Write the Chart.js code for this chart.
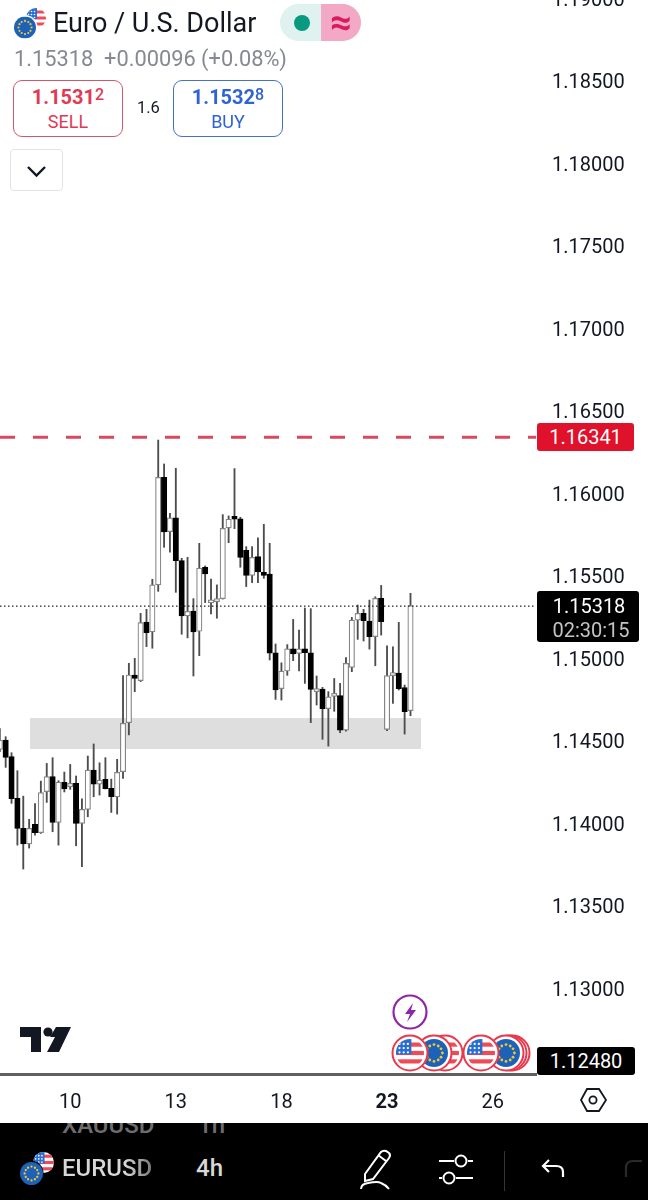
<!DOCTYPE html>
<html>
<head>
<meta charset="utf-8">
<title>Euro / U.S. Dollar</title>
<script src="https://cdn.jsdelivr.net/npm/chart.js@4"></script>
<style>
  html, body { margin: 0; padding: 0; background: #fff; }
  body { width: 648px; height: 1200px; position: relative; overflow: hidden; font-family: Roboto, sans-serif; color: #131722; }
  #chart { position: absolute; left: 0; top: -20px; }
  .abs { position: absolute; white-space: nowrap; }
  .box { position: absolute; box-sizing: border-box; width: 110px; height: 57px; top: 80px; border: 1.5px solid; border-radius: 9px; text-align: center; background: #fff; }
  .box b { display: block; font-size: 20px; font-weight: 700; line-height: 20px; margin-top: 6px; }
  .box b sup { font-size: 16px; font-weight: 500; line-height: 0; vertical-align: 4px; }
  .box span { display: block; font-size: 18px; line-height: 20px; margin-top: 5px; }
  .tag { position: absolute; left: 537px; box-sizing: border-box; color: #fff; font-size: 20px; border-radius: 3px; text-align: center; }
  #footer { position: absolute; left: 0; top: 1123px; width: 648px; height: 77px; background: #000; overflow: hidden; }
  #footer .t { position: absolute; font-size: 24px; font-weight: 500; white-space: nowrap; }
  svg { position: absolute; overflow: visible; }
</style>
</head>
<body>
<canvas id="chart" width="648" height="1143"></canvas>

<svg width="0" height="0" style="left:0;top:0">
  <defs>
    <clipPath id="c20"><circle cx="20" cy="20" r="20"/></clipPath>
    <symbol id="us" viewBox="0 0 40 40">
      <g clip-path="url(#c20)">
        <rect width="40" height="40" fill="#fff"/>
        <rect y="5" width="40" height="6" fill="#ef4a57"/>
        <rect y="17" width="40" height="6" fill="#ef4a57"/>
        <rect y="29" width="40" height="6" fill="#ef4a57"/>
        <rect width="22" height="22" fill="#2a6fd0"/>
        <g fill="#fff"><circle cx="5" cy="7" r="1.6"/><circle cx="11" cy="7" r="1.6"/><circle cx="17" cy="7" r="1.6"/><circle cx="5" cy="13" r="1.6"/><circle cx="11" cy="13" r="1.6"/><circle cx="17" cy="13" r="1.6"/><circle cx="5" cy="19" r="1.6"/><circle cx="11" cy="19" r="1.6"/><circle cx="17" cy="19" r="1.6"/></g>
      </g>
    </symbol>
    <symbol id="eu" viewBox="0 0 40 40">
      <circle cx="20" cy="20" r="20" fill="#1d62b8"/>
      <g fill="#f2c832"><circle cx="20" cy="8" r="2"/><circle cx="26" cy="10" r="2"/><circle cx="30" cy="14" r="2"/><circle cx="32" cy="20" r="2"/><circle cx="30" cy="26" r="2"/><circle cx="26" cy="30" r="2"/><circle cx="20" cy="32" r="2"/><circle cx="14" cy="30" r="2"/><circle cx="10" cy="26" r="2"/><circle cx="8" cy="20" r="2"/><circle cx="10" cy="14" r="2"/><circle cx="14" cy="10" r="2"/></g>
    </symbol>
  </defs>
</svg>

<!-- header -->
<svg style="left:0;top:0" width="60" height="45">
  <use href="#us" x="26" y="8" width="20" height="20"/>
  <circle cx="25" cy="27.5" r="12.5" fill="#fff"/>
  <use href="#eu" x="14" y="16.5" width="22" height="22"/>
</svg>
<div class="abs" style="left:53px;top:6px;font-size:27px;line-height:34px;color:#131722">Euro / U.S. Dollar</div>
<div class="abs" style="left:280px;top:4px;width:81px;height:37px;border-radius:19px;overflow:hidden;background:#dff2ef">
  <div class="abs" style="left:41px;top:0;width:40px;height:37px;background:#f3a9c6;color:#d81b60;font-size:38px;font-weight:700;line-height:36px;text-align:center">≈</div>
  <div class="abs" style="left:14px;top:10.5px;width:16px;height:16px;border-radius:50%;background:#089981"></div>
</div>
<div class="abs" style="left:14px;top:46px;font-size:21.8px;line-height:26px;color:#868993">1.15318&nbsp; +0.00096 (+0.08%)</div>
<div class="box" style="left:13px;border-color:#d4566b;color:#e03a52"><b>1.1531<sup>2</sup></b><span>SELL</span></div>
<div class="abs" style="left:137px;top:98px;font-size:16.5px;line-height:20px">1.6</div>
<div class="box" style="left:173px;border-color:#4472c4;color:#2f62d6"><b>1.1532<sup>8</sup></b><span>BUY</span></div>
<div class="abs" style="left:10px;top:149px;width:53px;height:42px;box-sizing:border-box;border:1.5px solid #e3e3e3;border-radius:4px;background:#fff"></div>
<svg style="left:26px;top:165px" width="22" height="14"><path d="M2 2 L10.5 10.5 L19 2" fill="none" stroke="#131722" stroke-width="2.4"/></svg>

<!-- price tags -->
<div class="tag" style="top:423px;width:97px;height:28px;line-height:29px;background:#e0112b">1.16341</div>
<div class="tag" style="top:591px;width:102px;height:51px;line-height:24px;background:#000;padding-top:3px"><span style="position:relative;left:1px">1.15318</span><br><span style="position:relative;left:3px;color:#c4c4c4">02:30:15</span></div>
<div class="tag" style="top:1047px;width:98px;height:28px;line-height:29px;background:#000">1.12480</div>

<!-- logo, events -->
<svg style="left:20px;top:1027px" width="52" height="26" viewBox="0 0 52 26">
  <path d="M0 0 H21 V25 H11 V10 H0 Z M30 10 L36 0 H51 L39 25 H27 L35 10 Z" fill="#131722"/>
  <circle cx="28" cy="5" r="4.6" fill="#131722"/>
</svg>
<svg style="left:392px;top:994px" width="36" height="36" viewBox="0 0 36 36">
  <circle cx="18" cy="18" r="16.5" fill="#fff" stroke="#8e24aa" stroke-width="2.2"/>
  <path d="M21 9 L13 20 H18 L15 28 L24 16 H19 Z" fill="#8e24aa"/>
</svg>
<svg style="left:385px;top:1030px" width="150" height="46" id="events"></svg>

<!-- hex settings icon -->
<svg style="left:578px;top:1086px" width="30" height="28" viewBox="0 0 30 28">
  <path d="M8 3 H20 L27 14 L20 25 H8 L2 14 Z" transform="translate(1 0)" fill="none" stroke="#131722" stroke-width="1.8"/>
  <circle cx="15" cy="14" r="3.6" fill="none" stroke="#131722" stroke-width="1.8"/>
</svg>

<!-- footer -->
<div id="footer">
  <div class="t" style="left:62px;top:-12px;color:#6d6d6d">XAUUSD</div>
  <div class="t" style="left:198px;top:-12px;color:#6d6d6d">1h</div>
  <div class="t" style="left:62px;top:31px;background:linear-gradient(90deg,#d8d8d8 70%,#777);-webkit-background-clip:text;background-clip:text;color:transparent">EURUSD</div>
  <div class="t" style="left:196px;top:31px;color:#d8d8d8">4h</div>
  <div class="t" style="left:62px;top:74px;color:#6d6d6d">GBPUSD</div>
  <div class="t" style="left:198px;top:74px;color:#6d6d6d">1D</div>
  <svg style="left:0;top:0" width="648" height="77">
    <use href="#us" x="33" y="29" width="21" height="21"/>
    <circle cx="31" cy="50" r="12.5" fill="#000"/>
    <use href="#eu" x="20" y="39" width="23" height="23"/>
    <g fill="none" stroke="#fff" stroke-width="2">
      <path d="M365 51 L381 29 Q383 27 386 28 L389 30 Q391 32 389 35 L373 56 L365 58 Z M378 32 L386 38"/>
      <path d="M361 66 Q361 61 368 60 Q378 58 381 60 Q386 62 389 66"/>
      <path d="M439 38 H454 M468 38 H473 M439 55 H442 M456 55 H473"/>
      <circle cx="461" cy="38" r="5.5"/>
      <circle cx="449" cy="55" r="5.5"/>
    </g>
    <rect x="504" y="28" width="1" height="40" fill="#333"/>
    <path d="M563 54 V49 Q563 43 556 43 H543 M549 37 L543 43 L549 49" fill="none" stroke="#fff" stroke-width="2.2"/>
    <path d="M626 54 V45 Q626 38 633 38 H642" fill="none" stroke="#2a2a2a" stroke-width="2.2"/>
  </svg>
</div>

<script>
// EURUSD 4h candles
var opens = [1.14449, 1.14506, 1.14405, 1.14152, 1.13970, 1.13876, 1.13995, 1.13944, 1.14193, 1.14284,
  1.14007, 1.14249, 1.14223, 1.14243, 1.14001, 1.14086, 1.14324, 1.14239, 1.14267, 1.14213,
  1.14162, 1.14314, 1.14611, 1.14900, 1.14866, 1.15221, 1.15161, 1.15446, 1.16098, 1.15769,
  1.15852, 1.15593, 1.15258, 1.15288, 1.15165, 1.15553, 1.15337, 1.15345, 1.15363, 1.15791,
  1.15850, 1.15846, 1.15656, 1.15504, 1.15617, 1.15520, 1.15512, 1.15035, 1.14817, 1.14924,
  1.15059, 1.15031, 1.15059, 1.15035, 1.14799, 1.14815, 1.14696, 1.14770, 1.14776, 1.14566,
  1.14946, 1.15233, 1.15273, 1.15227, 1.15132, 1.15364, 1.14570, 1.14896, 1.14912, 1.14823, 1.14684];
var highs = [1.14576, 1.14526, 1.14429, 1.14320, 1.14166, 1.14025, 1.14120, 1.14257, 1.14364, 1.14399,
  1.14259, 1.14312, 1.14358, 1.14288, 1.14150, 1.14409, 1.14482, 1.14368, 1.14399, 1.14269,
  1.14389, 1.14896, 1.14971, 1.15001, 1.15274, 1.15298, 1.15480, 1.16324, 1.16179, 1.15880,
  1.16153, 1.15607, 1.15613, 1.15363, 1.15698, 1.15561, 1.15482, 1.15446, 1.15872, 1.15864,
  1.16151, 1.15856, 1.15678, 1.15678, 1.15731, 1.15813, 1.15698, 1.15088, 1.14974, 1.15084,
  1.15237, 1.15172, 1.15306, 1.15302, 1.14894, 1.14825, 1.14799, 1.14879, 1.14849, 1.15005,
  1.15249, 1.15324, 1.15298, 1.15354, 1.15374, 1.15443, 1.15077, 1.15071, 1.15219, 1.14839, 1.15395];
var lows = [1.14435, 1.14340, 1.14122, 1.13869, 1.13724, 1.13851, 1.13930, 1.13940, 1.14128, 1.13950,
  1.13869, 1.14191, 1.14207, 1.13865, 1.13738, 1.14041, 1.14162, 1.14172, 1.14209, 1.14067,
  1.14057, 1.14273, 1.14537, 1.14799, 1.14860, 1.15072, 1.15062, 1.15407, 1.15674, 1.15644,
  1.15401, 1.15147, 1.15125, 1.14894, 1.15017, 1.15339, 1.15270, 1.15244, 1.15360, 1.15702,
  1.15787, 1.15553, 1.15436, 1.15460, 1.15460, 1.15486, 1.14991, 1.14752, 1.14748, 1.14898,
  1.14987, 1.14924, 1.14849, 1.14611, 1.14718, 1.14510, 1.14469, 1.14680, 1.14550, 1.14560,
  1.14920, 1.15116, 1.15106, 1.15057, 1.14956, 1.15142, 1.14562, 1.14728, 1.14809, 1.14542, 1.14653];
var closes = [1.14506, 1.14401, 1.14150, 1.13970, 1.13876, 1.13970, 1.13944, 1.14187, 1.14284, 1.14007,
  1.14251, 1.14209, 1.14243, 1.14001, 1.14086, 1.14324, 1.14239, 1.14263, 1.14211, 1.14162,
  1.14310, 1.14607, 1.14900, 1.14880, 1.15217, 1.15157, 1.15446, 1.16098, 1.15767, 1.15852,
  1.15593, 1.15258, 1.15286, 1.15161, 1.15547, 1.15512, 1.15345, 1.15361, 1.15789, 1.15844,
  1.15844, 1.15613, 1.15504, 1.15613, 1.15524, 1.15504, 1.15032, 1.14809, 1.14924, 1.15059,
  1.15027, 1.15059, 1.15035, 1.14813, 1.14815, 1.14696, 1.14768, 1.14781, 1.14566, 1.14970,
  1.15233, 1.15273, 1.15229, 1.15132, 1.15364, 1.15223, 1.14896, 1.14910, 1.14817, 1.14677, 1.15320];

var priceTicks = [1.19, 1.185, 1.18, 1.175, 1.17, 1.165, 1.16, 1.155, 1.15, 1.145, 1.14, 1.135, 1.13];
var dateSlots = [12, 30, 48, 66, 84];
var dateLabels = ["10", "13", "18", "23", "26"];
var boldDate = "23";

var targetLevel = 1.16341;
var lastPrice = 1.15318;
var zoneTop = 1.14639;
var zoneBottom = 1.14452;
var zoneStart = 5.15;
var zoneEnd = 71.8;

var xMin = 0.034, xMax = 91.39;
var yMin = 1.124818, yMax = 1.191121;

// event flags under the candles, back to front
var events = [[445, "us"], [434, "eu"], [410, "us"], [512, "eu"], [509, "eu"], [506, "eu"], [481, "us"]];
var evHtml = "";
events.forEach(function (ev) {
  var cx = ev[0] - 385;
  evHtml += '<circle cx="' + cx + '" cy="23" r="17.5" fill="#fff" stroke="#e8394d" stroke-width="2"/>' +
    '<use href="#' + ev[1] + '" x="' + (cx - 14) + '" y="9" width="28" height="28"/>';
});
document.getElementById("events").innerHTML = evHtml;

var wicks = [], bodies = [], bodyFill = [], bodyEdge = [];
for (var i = 0; i < opens.length; i++) {
  wicks.push({ x: i, y: [lows[i], highs[i]] });
  bodies.push({ x: i, y: [Math.min(opens[i], closes[i]), Math.max(opens[i], closes[i])] });
  var up = closes[i] >= opens[i];
  bodyFill.push(up ? "#ffffff" : "#000000");
  bodyEdge.push(up ? "#858585" : "#000000");
}

// no extra room for the edge tick labels, the plot runs right up to the canvas edge
function noPadding(scale) {
  scale.paddingTop = 0;
  scale.paddingBottom = 0;
  scale.paddingLeft = 0;
  scale.paddingRight = 0;
}

new Chart(document.getElementById("chart"), {
  type: "bar",
  data: {
    datasets: [
      {
        type: "line",
        data: [{ x: zoneStart, y: zoneTop }, { x: zoneEnd, y: zoneTop }],
        borderWidth: 0,
        pointRadius: 0,
        backgroundColor: "#dedede",
        fill: { value: zoneBottom },
        order: 5
      },
      {
        data: wicks,
        backgroundColor: "#4d4d4d",
        barThickness: 1.2,
        grouped: false,
        order: 3
      },
      {
        data: bodies,
        backgroundColor: bodyFill,
        borderColor: bodyEdge,
        borderWidth: 1.2,
        borderSkipped: false,
        barThickness: 5.4,
        minBarLength: 3,
        grouped: false,
        order: 2
      },
      {
        type: "line",
        data: [{ x: xMin, y: targetLevel }, { x: xMax, y: targetLevel }],
        borderColor: "#d9485f",
        borderWidth: 3,
        borderDash: [15, 18],
        pointRadius: 0,
        order: 1
      },
      {
        type: "line",
        data: [{ x: xMin, y: lastPrice }, { x: xMax, y: lastPrice }],
        borderColor: "#222222",
        borderWidth: 1.2,
        borderDash: [1.5, 2.5],
        pointRadius: 0,
        order: 1
      }
    ]
  },
  options: {
    responsive: false,
    animation: false,
    events: [],
    layout: { autoPadding: false, padding: 0 },
    plugins: { legend: { display: false }, tooltip: { enabled: false } },
    scales: {
      x: {
        type: "linear",
        offset: false,
        bounds: "data",
        min: xMin,
        max: xMax,
        grid: { display: false, offset: false },
        border: { display: true, color: "#606060", width: 3 },
        afterFit: function (scale) { scale.height = 49; noPadding(scale); },
        afterBuildTicks: function (scale) {
          scale.ticks = dateSlots.map(function (v) { return { value: v }; });
        },
        ticks: {
          autoSkip: false,
          maxRotation: 0,
          padding: 9,
          color: "#131722",
          font: function (ctx) {
            var isBold = dateLabels[dateSlots.indexOf(ctx.tick && ctx.tick.value)] === boldDate;
            return { family: "Roboto", size: 20, weight: isBold ? "bold" : "normal" };
          },
          callback: function (v) { return dateLabels[dateSlots.indexOf(v)]; }
        }
      },
      y: {
        position: "right",
        bounds: "data",
        min: yMin,
        max: yMax,
        grid: { display: false, drawTicks: false },
        border: { display: false },
        afterFit: function (scale) { scale.width = 112; noPadding(scale); },
        afterBuildTicks: function (scale) {
          scale.ticks = priceTicks.map(function (v) { return { value: v }; });
        },
        ticks: {
          autoSkip: false,
          padding: 16,
          color: "#131722",
          // blank first line with a short line height nudges the label down to the tick
          font: { family: "Roboto", size: 20, lineHeight: 0.25 },
          callback: function (v) { return ["", v.toFixed(5)]; }
        }
      }
    }
  }
});
</script>
</body>
</html>
